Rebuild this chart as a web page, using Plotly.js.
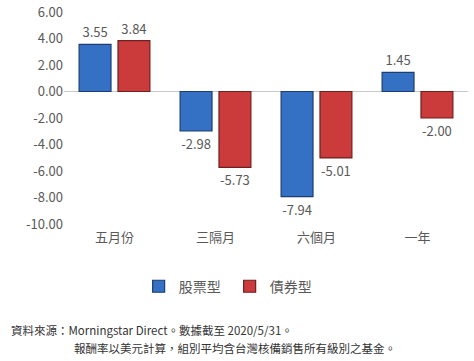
<!DOCTYPE html>
<html><head><meta charset="utf-8">
<script src="https://cdn.plot.ly/plotly-3.0.1.min.js"></script>
<style>html,body{margin:0;padding:0;background:#fff}</style>
</head><body><div id="chart" style="width:474px;height:361px"></div>
<script>
const categories = ['五月份', '三隔月', '六個月', '一年'];
const stockValues = [3.55, -2.98, -7.94, 1.45];
const bondValues = [3.84, -5.73, -5.01, -2.00];
const seriesNames = ['股票型', '債券型'];
const yTicks = [6, 4, 2, 0, -2, -4, -6, -8, -10];
const sourceLine1 = '資料來源：Morningstar Direct。數據截至 2020/5/31。';
const sourceLine2 = '報酬率以美元計算，組別平均含台灣核備銷售所有級別之基金。';

const font = 'Noto Sans CJK TC, Noto Sans, sans-serif';
const data = [
  {type:'bar', name:seriesNames[0], x:categories, y:stockValues,
   marker:{color:'#3470c4', line:{color:'#1d3d70', width:1.2}},
   text:stockValues.map(v=>v.toFixed(2)), textposition:'outside', cliponaxis:false,
   textfont:{color:'#595959', size:13, family:font}},
  {type:'bar', name:seriesNames[1], x:categories, y:bondValues,
   marker:{color:'#cc3b3b', line:{color:'#6e1f1f', width:1.2}},
   text:bondValues.map(v=>v.toFixed(2)), textposition:'outside', cliponaxis:false,
   textfont:{color:'#595959', size:13, family:font}}
];
const layout = {
  width:474, height:361,
  margin:{l:64, r:6, t:12, b:137},
  paper_bgcolor:'#fff', plot_bgcolor:'#fff',
  font:{family:font, color:'#595959', size:13},
  barmode:'group', bargap:0.23, bargroupgap:0.18,
  showlegend:true,
  legend:{orientation:'h', x:0.41, xanchor:'center', y:-0.22, yanchor:'top',
          font:{size:14, color:'#595959'}, itemwidth:30, entrywidth:46, traceorder:'normal'},
  xaxis:{showgrid:false, showline:false, zeroline:false, ticks:'',
         tickfont:{size:13, color:'#595959'}, ticklabelstandoff:4},
  yaxis:{range:[-10,6], tickvals:yTicks, ticktext:yTicks.map(v=>v.toFixed(2)),
         showgrid:false, zeroline:true, zerolinecolor:'#c8c8c8', zerolinewidth:1,
         showline:false, ticks:'', tickfont:{size:13, color:'#595959'}},
  annotations:[
    {text:sourceLine1, xref:'paper', yref:'paper', x:-0.135, y:-0.5, xanchor:'left', yanchor:'middle',
     showarrow:false, font:{size:11.5, color:'#333'}},
    {text:sourceLine2, xref:'paper', yref:'paper', x:0.02, y:-0.585, xanchor:'left', yanchor:'middle',
     showarrow:false, font:{size:11.5, color:'#333'}}
  ]
};
Plotly.newPlot('chart', data, layout, {displayModeBar:false, staticPlot:true});
</script></body></html>
